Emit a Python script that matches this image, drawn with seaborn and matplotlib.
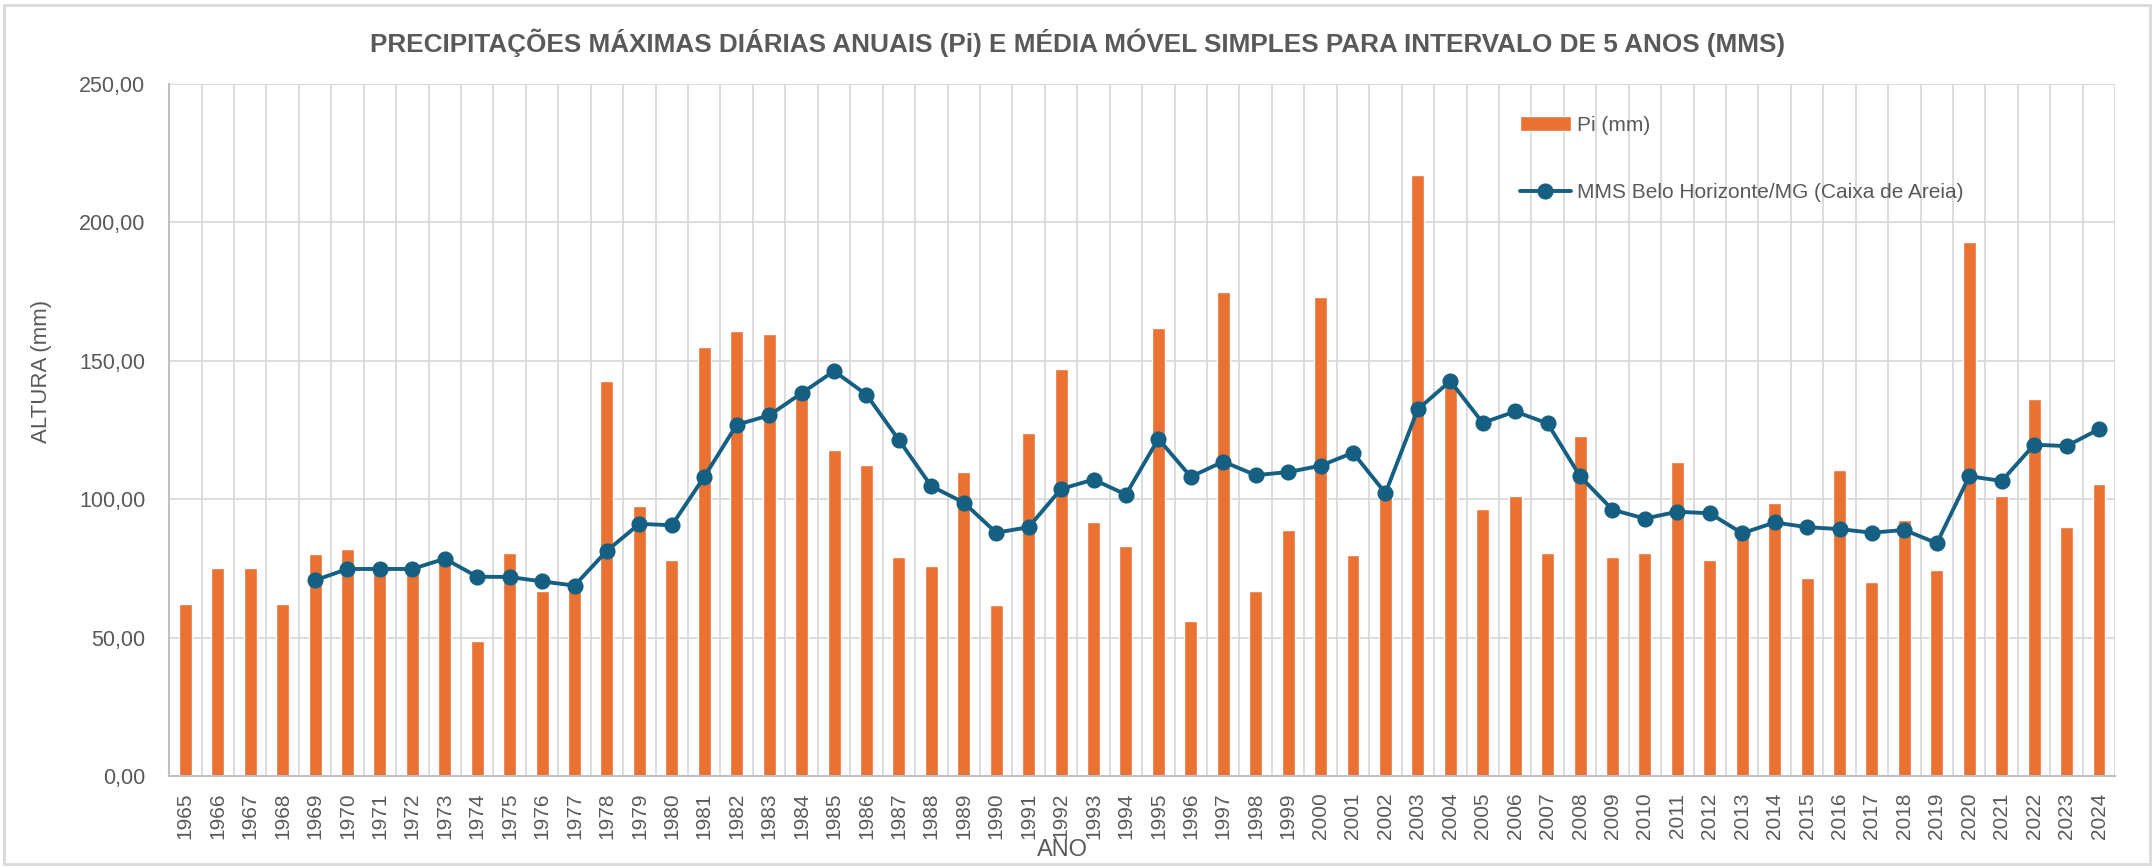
import numpy as np
import pandas as pd
import matplotlib
matplotlib.use("Agg")
import matplotlib.pyplot as plt
import seaborn as sns
from matplotlib.ticker import FuncFormatter, FixedLocator

# annual max daily precipitation (mm), 1965-2024
anos = [str(a) for a in range(1965, 2025)]
pi_mm = [62.0, 75.0, 75.0, 62.0, 80.2, 82.1, 74.7, 75.0, 77.0, 48.7,
         80.4, 66.9, 70.0, 142.7, 97.4, 78.0, 155.0, 160.9, 159.7, 138.0,
         117.8, 112.4, 79.2, 76.0, 109.8, 61.8, 123.8, 147.0, 91.8, 83.1,
         161.8, 56.0, 174.7, 66.8, 88.9, 172.9, 80.0, 102.4, 217.3, 141.0,
         96.6, 101.0, 80.4, 122.8, 79.0, 80.4, 113.6, 78.0, 87.5, 98.6,
         71.5, 110.7, 70.2, 92.5, 74.6, 193.1, 101.0, 136.2, 89.9, 105.6]
# 5-year simple moving average (first 4 years empty)
mms = [np.nan, np.nan, np.nan, np.nan, 70.7, 74.8, 74.8, 74.8, 78.5, 72.0,
       71.9, 70.3, 68.8, 81.4, 91.1, 90.6, 108.1, 126.9, 130.3, 138.3,
       146.3, 137.8, 121.4, 104.7, 98.8, 87.9, 89.9, 103.7, 107.1, 101.7,
       121.8, 108.1, 113.6, 108.7, 109.8, 112.1, 116.8, 102.2, 132.5, 142.7,
       127.6, 131.7, 127.4, 108.3, 96.2, 93.0, 95.5, 94.9, 87.7, 91.6,
       89.9, 89.2, 87.9, 88.9, 84.1, 108.3, 106.6, 119.7, 119.2, 125.3]

df = pd.DataFrame({"ano": anos, "pi": pi_mm, "mms": mms})

sns.set_theme(style="white")
plt.rcParams["font.family"] = ["Liberation Sans", "DejaVu Sans"]

cinza = "#595959"
laranja = "#E97132"
azul = "#156082"

fig = plt.figure(figsize=(21.54, 8.67), dpi=100)
ax = fig.add_axes([0.0785, 0.105, 0.9035, 0.798])

sns.barplot(data=df, x="ano", y="pi", order=anos, color=laranja, width=0.4,
            saturation=1, ax=ax, label="Pi (mm)", zorder=2)
sns.pointplot(data=df, x="ano", y="mms", order=anos, color=azul, marker="o",
              markersize=9.5, linewidth=2.8, ax=ax, zorder=3,
              label="MMS Belo Horizonte/MG (Caixa de Areia)")

ax.set_ylim(0, 250)
ax.set_xlim(-0.5, len(anos) - 0.5)
ax.set_yticks(np.arange(0, 251, 50))
ax.yaxis.set_major_formatter(FuncFormatter(lambda v, p: f"{v:.2f}".replace(".", ",")))

# vertical gridlines at category edges
ax.xaxis.set_minor_locator(FixedLocator(np.arange(-0.5, len(anos), 1)))
ax.grid(axis="y", which="major", color="#D9D9D9", linewidth=1.3, zorder=0)
ax.grid(axis="x", which="minor", color="#D9D9D9", linewidth=1.3, zorder=0)
ax.set_axisbelow(True)
ax.tick_params(axis="x", which="both", length=0, labelrotation=90,
               labelsize=15, labelcolor=cinza, pad=12)
ax.tick_params(axis="y", length=0, labelsize=15.5, labelcolor=cinza, pad=17)

for s in ["top", "right"]:
    ax.spines[s].set_visible(False)
for s in ["left", "bottom"]:
    ax.spines[s].set_color("#BFBFBF")
    ax.spines[s].set_linewidth(1.5)

ax.set_xlabel("ANO", fontsize=17, color=cinza)
ax.set_ylabel("ALTURA (mm)", fontsize=16, color=cinza)
ax.xaxis.set_label_coords(1062 / 2154, 1 - 849.5 / 867, transform=fig.transFigure)
ax.xaxis.label.set_verticalalignment("center")
ax.yaxis.set_label_coords(41 / 2154, 1 - 371 / 867, transform=fig.transFigure)
ax.yaxis.label.set_verticalalignment("center")

titulo = fig.suptitle("PRECIPITAÇÕES MÁXIMAS DIÁRIAS ANUAIS (Pi) E MÉDIA MÓVEL SIMPLES PARA INTERVALO DE 5 ANOS (MMS)",
                      x=0.5, y=0.951, va="center", fontsize=19, fontweight="bold",
                      color=cinza)

h, l = ax.get_legend_handles_labels()
order = [l.index("Pi (mm)"), l.index("MMS Belo Horizonte/MG (Caixa de Areia)")]
ax.legend([h[i] for i in order], [l[i] for i in order], loc="upper left",
          bbox_to_anchor=(0.6843, 0.981), frameon=False, fontsize=15,
          labelspacing=2.32, handlelength=2.45, handletextpad=0.3,
          labelcolor=cinza)

# title in the reference spans ~1414 px
fig.canvas.draw()
w = titulo.get_window_extent().width
titulo.set_fontsize(19 * 1414 / w)

# chart area border
fig.patches.append(plt.Rectangle((0.002, 0.004), 0.996, 0.99, transform=fig.transFigure,
                                 fill=False, edgecolor="#D9D9D9", linewidth=2))

fig.savefig("out.png", dpi=100, facecolor="white")
